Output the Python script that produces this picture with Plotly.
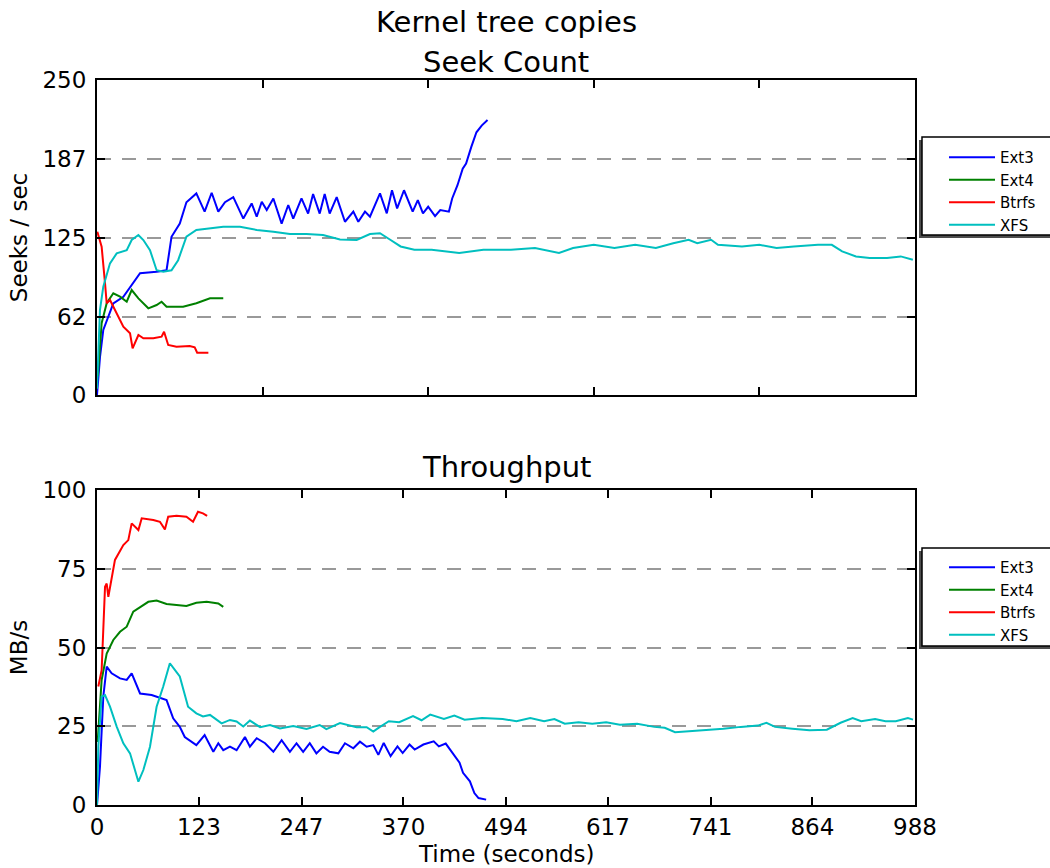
import plotly.graph_objects as go

# ---------------- data ----------------
series_names = ["Ext3", "Ext4", "Btrfs", "XFS"]
series_colors = ["#0000ff", "#008000", "#ff0000", "#00bfbf"]

x_ticks_bottom = [0, 123, 247, 370, 494, 617, 741, 864, 988]
x_ticks_top = [0, 200, 400, 600, 800]
seek_ticks = [0, 62, 125, 187, 250]
tput_ticks = [0, 25, 50, 75, 100]

# Seek count (seeks / sec)
ext3_seek_t = [0, 3.6, 7.6, 19.7, 31.8, 43.8, 52, 72, 84, 90, 100, 108, 120, 130, 138.5, 146.5, 154.6,
               164.6, 176.7, 186.8, 192.9, 199, 205, 213, 223, 231, 237, 247, 255, 261, 269, 275, 281,
               289.5, 299.5, 309.6, 315.6, 323.7, 329.7, 341.8, 350, 356.3, 362.5, 370.8, 381.3, 387.5,
               393.7, 400, 408.3, 414.6, 425, 429, 435.4, 441.7, 445.8, 452, 458.3, 464.6, 471.7]
ext3_seek_v = [0, 30, 51.6, 72.7, 78, 88.6, 96.6, 97.9, 99, 125.6, 136, 153, 160, 145.5, 160.5, 145.5, 153,
               157, 140, 152, 141.5, 153.4, 146.8, 156, 136, 150.8, 140, 156, 144, 159.5, 144, 159.5, 144,
               157, 137.5, 145.5, 137.5, 145.5, 141.5, 160, 144.2, 162.5, 148.1, 162.5, 145.5, 154.7,
               144.2, 149.4, 142, 146.8, 145.5, 156, 166.5, 179.6, 183.6, 196.7, 208.5, 213.8, 218.2]

ext4_seek_t = [1, 5.6, 11.7, 19.7, 27.8, 35.9, 41.9, 50, 62, 72, 78, 84, 104, 120, 136.5, 152.5]
ext4_seek_v = [15, 57, 72.8, 80.7, 78, 74, 83.3, 76.7, 68.8, 71.4, 74, 70, 70, 72.8, 76.7, 76.7]

btrfs_seek_t = [0.4, 5.6, 9.7, 11.7, 15.7, 23.8, 31.8, 39.9, 43, 50, 56, 68, 78, 81, 86, 96, 112, 118, 121, 134.5]
btrfs_seek_v = [129.6, 117.7, 88.6, 72.8, 75.4, 64.8, 54.2, 49, 37, 47.6, 45, 45, 46.3, 50.2, 39.7, 38.3,
                38.9, 37.9, 33.6, 33.6]

xfs_seek_t = [0, 3.6, 7.6, 15.7, 23.8, 35.9, 41.9, 50, 56, 64, 72, 80, 90, 98, 108, 120, 132.5, 152.5,
              172.7, 193, 213, 233, 253, 273, 293.5, 313.6, 329.7, 341.8, 354.2, 366.7, 383.3, 404.2,
              437.5, 466.7, 500, 529, 558, 575, 600, 625, 650, 675, 696, 714.6, 725, 741.7, 750, 779,
              800, 820.8, 841.7, 870.8, 887.5, 900, 916.7, 933.3, 954.2, 970.8, 985.4]
xfs_seek_v = [5, 67.5, 86, 104.5, 112.4, 115, 123, 127, 123, 115, 99, 97.9, 99, 107, 125.6, 131, 132, 133.5,
              133.5, 131, 129.6, 127.8, 127.8, 127, 123.5, 123, 127.8, 128.4, 123.2, 117.9, 115.3, 115.3,
              112.7, 115.3, 115.3, 116.6, 112.7, 116.6, 119.2, 116.6, 119.2, 116.6, 120.5, 123.2, 120.5,
              123.2, 119.2, 117.9, 119.2, 116.6, 117.9, 119.2, 119.2, 114, 110, 108.7, 108.7, 110, 107.4]

# Throughput (MB/s)
ext3_tput_t = [0, 3.6, 7.6, 11.7, 17.7, 27.8, 35.9, 41.9, 52, 66, 84, 92, 100, 106, 120, 130, 140.5, 146.5,
               152.5, 160.6, 168.6, 178.7, 184.7, 192.9, 203, 213, 223, 233, 241, 249, 257, 265, 273, 281,
               291.5, 299.5, 309.6, 317.6, 325.7, 333.7, 339.8, 346.3, 354.6, 362.9, 369.2, 377.5, 383.7,
               394.2, 406.7, 412.9, 421.2, 429.6, 437.9, 442.1, 450.4, 455.8, 460.8, 470]
ext3_tput_v = [0, 12.2, 34.4, 43.9, 41.8, 40.2, 39.7, 41.8, 35.4, 34.9, 33.3, 27.5, 24.8, 21.6, 19, 22.2,
               16.9, 19.6, 17.4, 18.5, 17.4, 21.6, 18.5, 21.2, 19.6, 16.9, 20.6, 16.9, 19.6, 16.9, 19.6,
               16.4, 18.5, 16.9, 16.4, 19.6, 18, 20.1, 18.5, 19, 15.9, 19.7, 15.5, 18.6, 16.5, 19.2, 17.6,
               19.2, 20.2, 18.6, 19.5, 16.5, 13.4, 10.2, 7.5, 3.8, 2.2, 1.7]

ext4_tput_t = [0.8, 5.6, 11.7, 19.7, 27.8, 35.9, 43.8, 52, 62, 72, 84, 96, 108, 120, 132.5, 146.5, 152.5]
ext4_tput_v = [20, 39.7, 48.1, 52.4, 55, 56.6, 61.4, 62.9, 64.5, 64.9, 63.8, 63.5, 63.2, 64.2, 64.5, 64, 62.9]

btrfs_tput_t = [1.6, 5.6, 9.7, 11.7, 13.7, 17.7, 21.7, 31.8, 37.8, 41.9, 50, 54, 68, 76, 82, 86, 96, 108,
                116, 122, 128, 133]
btrfs_tput_v = [37.6, 42.8, 69.3, 70.3, 66.1, 71.4, 77.8, 82.5, 84.1, 89.4, 87.3, 91, 90.5, 89.9, 87.5, 91.5,
                91.8, 91.5, 89.9, 93.1, 92.6, 91.8]

xfs_tput_t = [0, 1.6, 5.6, 9.7, 15.7, 23.8, 31.8, 39.9, 50, 56, 64, 72, 80, 88, 94, 100, 110, 120, 128,
              136.5, 150.5, 160.6, 168.6, 176.7, 184.7, 197, 209, 221, 237, 253, 269, 277, 293.5, 313.6,
              325.7, 333.7, 340, 352.5, 365, 381.7, 392, 402.5, 419, 431.6, 444, 465, 490, 506.6, 523.3,
              540, 552.4, 565, 581.6, 598.2, 615, 631.6, 652.4, 673.2, 685.7, 698.2, 714.9, 735.7, 756.5,
              777.4, 798.2, 808.6, 819, 839.8, 860.6, 881.5, 898.1, 912.7, 923.1, 939.8, 952.3, 964.8,
              979.4, 985.6]
xfs_tput_v = [0, 18.6, 34.4, 34.9, 31.2, 24.9, 19.6, 16.4, 7.4, 11.1, 18.5, 31.2, 37.6, 45, 42.9, 40.8, 31.2,
              29.1, 28.1, 28.6, 25.9, 27, 26.5, 24.9, 26.8, 24.7, 25.4, 24.3, 25.1, 24.1, 25.4, 24.1, 26,
              24.7, 24.7, 23.3, 24.5, 26.6, 26.3, 28.2, 26.9, 28.7, 27.3, 28.4, 27.1, 27.6, 27.3, 26.6,
              27.6, 26.6, 27.3, 25.8, 26.3, 25.8, 26.3, 25.5, 25.8, 24.8, 24.5, 23.1, 23.4, 23.7, 24.2,
              24.8, 25.2, 26.1, 24.8, 24.2, 23.7, 23.9, 26.1, 27.6, 26.6, 27.3, 26.6, 26.6, 27.6, 27.1]

seek_series = [(ext3_seek_t, ext3_seek_v), (ext4_seek_t, ext4_seek_v),
               (btrfs_seek_t, btrfs_seek_v), (xfs_seek_t, xfs_seek_v)]
tput_series = [(ext3_tput_t, ext3_tput_v), (ext4_tput_t, ext4_tput_v),
               (btrfs_tput_t, btrfs_tput_v), (xfs_tput_t, xfs_tput_v)]

# ---------------- layout helpers ----------------
W, H = 1050, 868
FONT = "DejaVu Sans"


def px(x):
    return x / W


def py(y):
    return 1 - y / H


fig = go.Figure()

for (t, v), name, col in zip(seek_series, series_names, series_colors):
    fig.add_trace(go.Scatter(x=t, y=v, mode="lines", name=name, xaxis="x", yaxis="y",
                             line=dict(color=col, width=2), legend="legend"))
for (t, v), name, col in zip(tput_series, series_names, series_colors):
    fig.add_trace(go.Scatter(x=t, y=v, mode="lines", name=name, xaxis="x2", yaxis="y2",
                             line=dict(color=col, width=2), legend="legend2"))

axis_common = dict(showline=True, linecolor="black", linewidth=2, mirror="ticks",
                   ticks="inside", ticklen=8, tickwidth=1.5, tickcolor="black",
                   zeroline=False, automargin=False,
                   tickfont=dict(family=FONT, size=23, color="black"))

legend_common = dict(xanchor="left", yanchor="top", bgcolor="rgba(0,0,0,0)", borderwidth=0,
                     itemwidth=46, font=dict(family=FONT, size=15, color="black"), tracegroupgap=0)

fig.update_layout(
    width=W, height=H,
    margin=dict(l=0, r=0, t=0, b=0, autoexpand=False),
    paper_bgcolor="white", plot_bgcolor="white",
    font=dict(family=FONT, color="black"),
    xaxis=dict(domain=[px(97), px(915)], anchor="y", range=[0, 988],
               tickmode="array", tickvals=x_ticks_top, showticklabels=False,
               showgrid=False, **axis_common),
    yaxis=dict(domain=[py(395), py(80)], anchor="x", range=[0, 250],
               tickmode="array", tickvals=seek_ticks, ticktext=[str(v) for v in seek_ticks],
               showgrid=True, gridcolor="#999999", gridwidth=2, griddash="14px,11px",
               ticklabelstandoff=4,
               title=dict(text="Seeks / sec", font=dict(family=FONT, size=23), standoff=8),
               **axis_common),
    xaxis2=dict(domain=[px(97), px(915)], anchor="y2", range=[0, 988],
                tickmode="array", tickvals=x_ticks_bottom, ticktext=[str(v) for v in x_ticks_bottom],
                showgrid=False, ticklabelstandoff=0,
                **axis_common),
    yaxis2=dict(domain=[py(805), py(490)], anchor="x2", range=[0, 100],
                tickmode="array", tickvals=tput_ticks, ticktext=[str(v) for v in tput_ticks],
                showgrid=True, gridcolor="#999999", gridwidth=2, griddash="14px,11px",
                ticklabelstandoff=4,
                title=dict(text="MB/s", font=dict(family=FONT, size=23), standoff=8),
                **axis_common),
    legend=dict(x=px(944), y=py(141), **legend_common),
    legend2=dict(x=px(944), y=py(551), **legend_common),
    showlegend=True,
)

# legend frames with matplotlib-like shadow
shapes = []
for top, bottom in [(137, 235), (548, 646)]:
    shapes.append(dict(type="rect", xref="paper", yref="paper",
                       x0=px(919), x1=1.1, y0=py(bottom + 3), y1=py(top + 3),
                       fillcolor="#4d4d4d", line=dict(width=0), layer="above"))
    shapes.append(dict(type="rect", xref="paper", yref="paper",
                       x0=px(922), x1=1.1, y0=py(bottom), y1=py(top),
                       fillcolor="white", line=dict(color="black", width=1.5), layer="above"))
fig.update_layout(shapes=shapes)

annotations = [
    dict(text="Kernel tree copies", x=px(506), y=py(22), xref="paper", yref="paper",
         xanchor="center", yanchor="middle",
         showarrow=False, font=dict(family=FONT, size=29, color="black")),
    dict(text="Seek Count", x=px(506), y=py(62), xref="paper", yref="paper",
         xanchor="center", yanchor="middle",
         showarrow=False, font=dict(family=FONT, size=29, color="black")),
    dict(text="Throughput", x=px(506), y=py(467), xref="paper", yref="paper",
         xanchor="center", yanchor="middle",
         showarrow=False, font=dict(family=FONT, size=29, color="black")),
    dict(text="Time (seconds)", x=px(506), y=py(854), xref="paper", yref="paper",
         xanchor="center", yanchor="middle",
         showarrow=False, font=dict(family=FONT, size=23, color="black")),
]
fig.update_layout(annotations=annotations)

fig.write_html("out.html")
